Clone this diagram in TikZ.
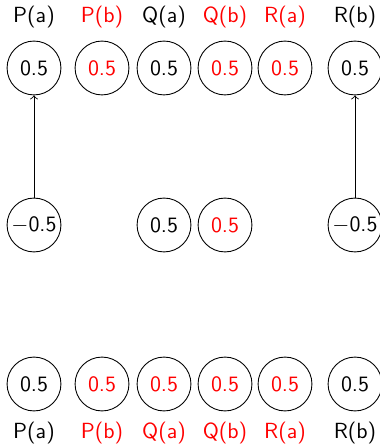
\documentclass[tikz,border=0pt]{standalone}
\begin{document}
\begin{tikzpicture}[x=0.4566pt,y=-0.4566pt,
  font=\sffamily,
  val/.style={circle,draw,inner sep=0pt,minimum size=24.6pt},
  lbl/.style={inner sep=1pt},
  hot/.style={text=red}]
\useasboundingbox (0,0) rectangle (379,444);
% top labels
\node[lbl]      (tPa) at (34,17)  {P(a)};
\node[lbl,hot]  (tPb) at (102,17) {P(b)};
\node[lbl]      (tQa) at (164,17) {Q(a)};
\node[lbl,hot]  (tQb) at (225,17) {Q(b)};
\node[lbl,hot]  (tRa) at (285,17) {R(a)};
\node[lbl]      (tRb) at (355,17) {R(b)};
% top row
\node[val]      (a1) at (34,68)  {0.5};
\node[val,hot]  (a2) at (102,68) {0.5};
\node[val]      (a3) at (164,68) {0.5};
\node[val,hot]  (a4) at (225,68) {0.5};
\node[val,hot]  (a5) at (285,68) {0.5};
\node[val]      (a6) at (355,68) {0.5};
% middle row
\node[val]      (b1) at (34,225)  {$-$0.5};
\node[val]      (b3) at (164,225) {0.5};
\node[val,hot]  (b4) at (225,225) {0.5};
\node[val]      (b6) at (355,225) {$-$0.5};
% bottom row
\node[val]      (c1) at (34,384)  {0.5};
\node[val,hot]  (c2) at (102,384) {0.5};
\node[val,hot]  (c3) at (164,384) {0.5};
\node[val,hot]  (c4) at (225,384) {0.5};
\node[val,hot]  (c5) at (285,384) {0.5};
\node[val]      (c6) at (355,384) {0.5};
% bottom labels
\node[lbl]      (bPa) at (34,433)  {P(a)};
\node[lbl,hot]  (bPb) at (102,433) {P(b)};
\node[lbl,hot]  (bQa) at (164,433) {Q(a)};
\node[lbl,hot]  (bQb) at (225,433) {Q(b)};
\node[lbl,hot]  (bRa) at (285,433) {R(a)};
\node[lbl]      (bRb) at (355,433) {R(b)};
% links
\draw[->] (b1) -- (a1);
\draw[->] (b6) -- (a6);
\end{tikzpicture}
\end{document}
